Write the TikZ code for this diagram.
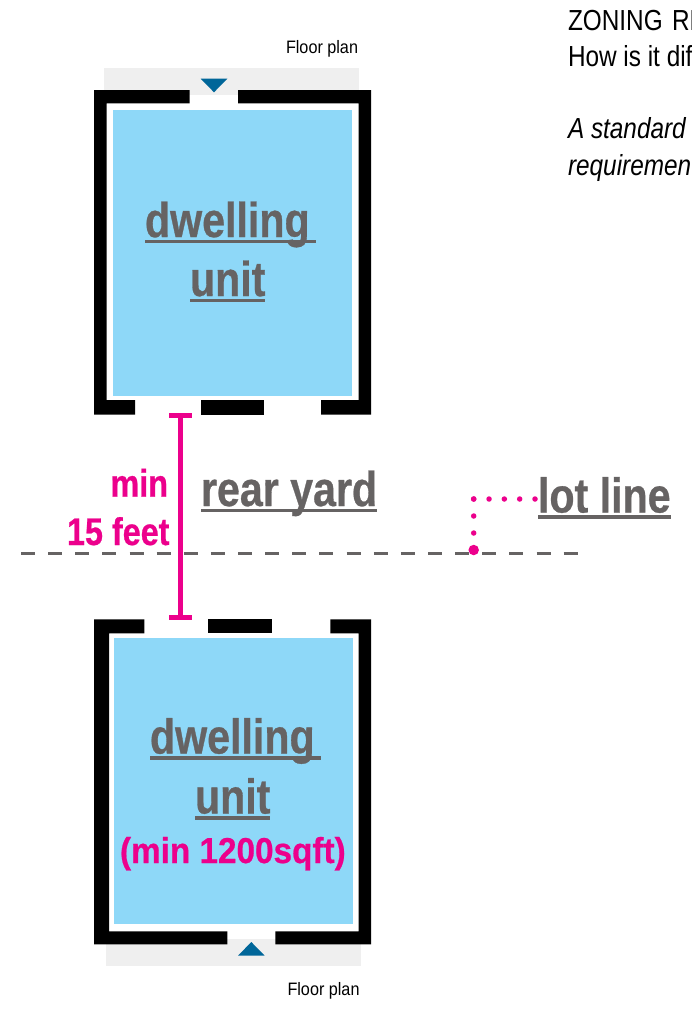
\documentclass[tikz,border=0pt]{standalone}
\usepackage{fontspec}
\setmainfont{Liberation Sans}
\newfontfamily\narB[FakeStretch=0.84,BoldFeatures={FakeBold=0.6,FakeStretch=0.84}]{Liberation Sans}
\newfontfamily\narD[BoldFeatures={FakeBold=0.6,FakeStretch=0.925}]{Liberation Sans}
\newfontfamily\narC[FakeStretch=0.9]{Liberation Sans}
\definecolor{pinkc}{HTML}{EC008C}
\definecolor{greyc}{HTML}{666363}
\definecolor{bluec}{HTML}{8ED8F8}
\definecolor{triac}{HTML}{006699}
\definecolor{padc}{HTML}{EFEFEF}
\newcommand\ulbox[1]{\setbox0=\hbox{#1}\leavevmode\rlap{\raisebox{-6.2pt}{\rule{\wd0}{3.6pt}}}\box0}
\tikzset{
  x=1pt,y=-1pt,
  lbl/.style={inner sep=0pt,outer sep=0pt,anchor=base west},
  big/.style={lbl,text=greyc,font=\narB\bfseries\fontsize{49}{49}\selectfont},
  pinktext/.style={lbl,text=pinkc,font=\narB\bfseries\fontsize{38.5}{38.5}\selectfont},
  plan/.style={lbl,text=black,font=\narC\fontsize{18}{18}\selectfont},
  body/.style={lbl,text=black,font=\narB\fontsize{29}{29}\selectfont},
  wall/.style={fill=black,draw=none},
  room/.style={fill=bluec,draw=none},
  pad/.style={fill=padc,draw=none},
  tria/.style={fill=triac,draw=none},
  dim/.style={draw=pinkc,line width=4.5pt},
  dots/.style={draw=pinkc,line width=5.5pt,line cap=round},
}
\begin{document}
\begin{tikzpicture}
\clip (0,0) rectangle (692,1009);
\fill[white] (0,0) rectangle (692,1009);
% top unit
\path[pad] (104,68) rectangle (359.3,95);
\path[wall] (189.7,90) -- (94,90) -- (94,414.7) -- (135,414.7) -- (135,400) -- (106.7,400) -- (106.7,103.3) -- (189.7,103.3) -- cycle;
\path[wall] (238,90) -- (371,90) -- (371,414.7) -- (321,414.7) -- (321,400) -- (358.7,400) -- (358.7,103.3) -- (238,103.3) -- cycle;
\path[wall] (201,400) rectangle (264,414.7);
\path[room] (112.7,109.7) rectangle (352,395.7);
\path[tria] (200.7,78.7) -- (227.3,78.7) -- (214,92.3) -- cycle;
\node[plan] (plantop) at (286,53) {Floor plan};
% bottom unit
\path[pad] (106,939) rectangle (361,965.7);
\path[wall] (144.3,619.3) -- (94,619.3) -- (94,944.3) -- (227.3,944.3) -- (227.3,931.3) -- (109,931.3) -- (109,633.3) -- (144.3,633.3) -- cycle;
\path[wall] (330.3,619.3) -- (371,619.3) -- (371,944.3) -- (275.3,944.3) -- (275.3,931.3) -- (358.7,931.3) -- (358.7,633.3) -- (330.3,633.3) -- cycle;
\path[wall] (208.3,619.3) rectangle (272,633.3);
\path[room] (113.7,638.3) rectangle (352.7,924.3);
\path[tria] (238,955.7) -- (264.7,955.7) -- (251.3,942) -- cycle;
\node[plan] (planbot) at (287.5,995) {Floor plan};
% lot line (dashed)
\coordinate (lotA) at (21,553.3);
\coordinate (lotB) at (578,553.3);
\draw[greyc,line width=3.4pt,dash pattern=on 14pt off 13.135pt] (lotA) -- (lotB);
% dimension
\coordinate (dimT) at (180.3,415.7);
\coordinate (dimB) at (180.3,617);
\draw[dim] (dimT) -- (dimB);
\draw[dim,line width=5pt] (169,415.7) -- (192,415.7);
\draw[dim,line width=5pt] (169,617) -- (192,617);
% lot-line callout
\coordinate (lotS) at (535,499);
\coordinate (lotC) at (473.7,499);
\node[circle,fill=pinkc,inner sep=0pt,minimum size=10.5pt] (lotP) at (473.7,550) {};
\draw[dots,dash pattern=on 0pt off 15.32pt] (lotS) -- (lotC);
\draw[dots,dash pattern=on 0pt off 17pt] (lotC) -- (lotP.center);
% labels
\node[big] (d1) at (145,237) {\ulbox{dwelling\hspace{6pt}}};
\node[big] (u1) at (190,296) {\ulbox{unit}};
\node[big] (d2) at (150,753.5) {\ulbox{dwelling\hspace{6pt}}};
\node[big] (u2) at (195,813.5) {\ulbox{unit}};
\node[big] (ry) at (201,506) {\ulbox{rear yard}};
\node[big] (ll) at (538,512.5) {\ulbox{lot line}};
\node[pinktext,font=\narD\bfseries\fontsize{36}{36}\selectfont] (ms) at (120,863) {(min 1200sqft)};
\node[pinktext,anchor=base east] (mn) at (168,496.7) {min};
\node[pinktext,anchor=base east] (ft) at (169.5,545) {15 feet};
% header text
\node[body] (h1) at (568,30) {ZONING\hspace{2.5pt} RE};
\node[body] (h2) at (568,66) {How is it diff};
\node[body,font=\narB\itshape\fontsize{29}{29}\selectfont] (h3) at (568,138) {A standard};
\node[body,font=\narB\itshape\fontsize{29}{29}\selectfont] (h4) at (568,175) {requiremen};
\end{tikzpicture}
\end{document}
